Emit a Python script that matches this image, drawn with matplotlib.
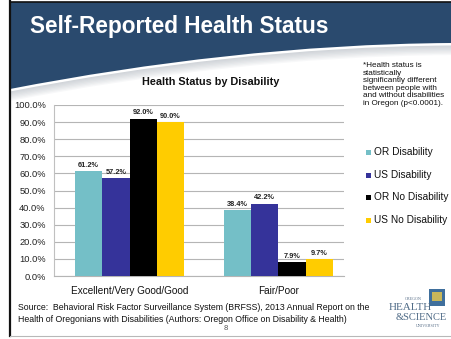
import matplotlib
matplotlib.use("Agg")
import matplotlib.pyplot as plt
import numpy as np
from matplotlib.path import Path
from matplotlib.patches import PathPatch, Rectangle

plt.rcParams['font.family'] = ['Liberation Sans', 'DejaVu Sans']

# Health status by disability, Oregon vs US (BRFSS 2013)
categories = ['Excellent/Very Good/Good', 'Fair/Poor']
series_names = ['OR Disability', 'US Disability', 'OR No Disability', 'US No Disability']
or_disability = [61.2, 38.4]
us_disability = [57.2, 42.2]
or_no_disability = [92.0, 7.9]
us_no_disability = [90.0, 9.7]
series_colors = ['#74bfc7', '#35339a', '#000000', '#ffcc00']
y_ticks = [0, 10, 20, 30, 40, 50, 60, 70, 80, 90, 100]

W, H = 451, 339
fig = plt.figure(figsize=(W / 100, H / 100), dpi=100)

# slide background in pixel coordinates
bg = fig.add_axes([0, 0, 1, 1])
bg.set_xlim(0, W)
bg.set_ylim(H, 0)
bg.axis('off')

# blue header with curved lower edge
codes = [Path.MOVETO, Path.LINETO, Path.LINETO,
         Path.CURVE4, Path.CURVE4, Path.CURVE4,
         Path.CLOSEPOLY]

def header_path(off=0):
    v = [(10, 2), (W, 2), (W, 43 + off), (300, 44 + off), (150, 62 + off), (10, 89 + off), (10, 2)]
    return Path(v, codes)

# soft grey shadow below the curve
for i in range(8):
    bg.add_patch(PathPatch(header_path(3 + i * 1.3), facecolor='#9aa3ad', edgecolor='none', alpha=0.07))
bg.add_patch(PathPatch(header_path(2.5), facecolor='white', edgecolor='none'))
bg.add_patch(PathPatch(header_path(), facecolor='#2a4a6e', edgecolor='none'))

# slide frame
bg.plot([10, 10], [1, 336], color='#111111', lw=1.6)
bg.plot([10, W], [1.5, 1.5], color='#111111', lw=1.2)
bg.plot([10, W], [335.5, 335.5], color='#b8b8b8', lw=0.8)

bg.text(30, 26, 'Self-Reported Health Status', color='white', fontsize=16.3,
        fontweight='bold', va='center', ha='left')
bg.text(211, 82, 'Health Status by Disability', fontsize=7.8, fontweight='bold',
        ha='center', va='center', color='#111111')

note = ('*Health status is\nstatistically\nsignificantly different\n'
        'between people with\nand without disabilities\nin Oregon (p<0.0001).')
bg.text(363, 62, note, fontsize=5.9, ha='left', va='top', linespacing=1.12, color='#111111')

# legend
leg_y = [152, 175, 197, 220]
for name, col, y in zip(series_names, series_colors, leg_y):
    bg.add_patch(Rectangle((366, y - 2.5), 5, 5, facecolor=col, edgecolor='none'))
    bg.text(374, y, name, fontsize=7.3, va='center', ha='left', color='#111111')

# source line
bg.text(18, 308, 'Source:  Behavioral Risk Factor Surveillance System (BRFSS), 2013 Annual Report on the',
        fontsize=6.3, va='center', ha='left', color='#111111')
bg.text(18, 319, 'Health of Oregonians with Disabilities (Authors: Oregon Office on Disability & Health)',
        fontsize=6.3, va='center', ha='left', color='#111111')
bg.text(226, 329, '8', fontsize=5.5, va='center', ha='center', color='#555555')

# university logo (text approximation)
bg.text(413, 299, 'OREGON', fontsize=3, family='Liberation Serif', ha='center', va='center', color='#5a7089')
bg.text(410, 308, 'HEALTH', fontsize=8, family='Liberation Serif', ha='center', va='center', color='#4e6a86')
bg.text(421, 318, '&SCIENCE', fontsize=7.5, family='Liberation Serif', ha='center', va='center', color='#4e6a86')
bg.text(428, 326, 'UNIVERSITY', fontsize=3, family='Liberation Serif', ha='center', va='center', color='#5a7089')
bg.add_patch(Rectangle((429, 289), 16, 17, facecolor='#3f6f9c', edgecolor='none'))
bg.add_patch(Rectangle((432, 292), 10, 9, facecolor='#c9b75a', edgecolor='none'))

# chart axes
ax = fig.add_axes([54 / W, (H - 276) / H, 290 / W, (276 - 105) / H])
x = np.arange(len(categories))
bw = 0.183
all_series = [or_disability, us_disability, or_no_disability, us_no_disability]
for i, (vals, col) in enumerate(zip(all_series, series_colors)):
    pos = x + (i - 1.5) * bw
    ax.bar(pos, vals, width=bw, color=col, edgecolor='none', zorder=3)
    for p, v in zip(pos, vals):
        ax.text(p, v + 1.5, f'{v:.1f}%', ha='center', va='bottom', fontsize=5.3,
                fontweight='bold', color='#222222')

ax.set_xlim(-0.507, 1.44)
ax.set_ylim(0, 100)
ax.set_yticks(y_ticks)
ax.set_yticklabels([f'{t:.1f}%' for t in y_ticks], fontsize=6.7, color='#222222')
ax.set_xticks(x)
ax.set_xticklabels(categories, fontsize=7.2, color='#111111')
ax.tick_params(axis='both', length=0, pad=6)
ax.tick_params(axis='x', pad=7)
ax.grid(axis='y', color='#b5b5b5', lw=0.8, zorder=0)
for s in ['top', 'right']:
    ax.spines[s].set_visible(False)
ax.spines['left'].set_color('#c0c0c0')
ax.spines['left'].set_linewidth(0.8)
ax.spines['bottom'].set_color('#b5b5b5')
ax.spines['bottom'].set_linewidth(0.8)
ax.set_facecolor('none')

fig.savefig('out.png', dpi=100)
